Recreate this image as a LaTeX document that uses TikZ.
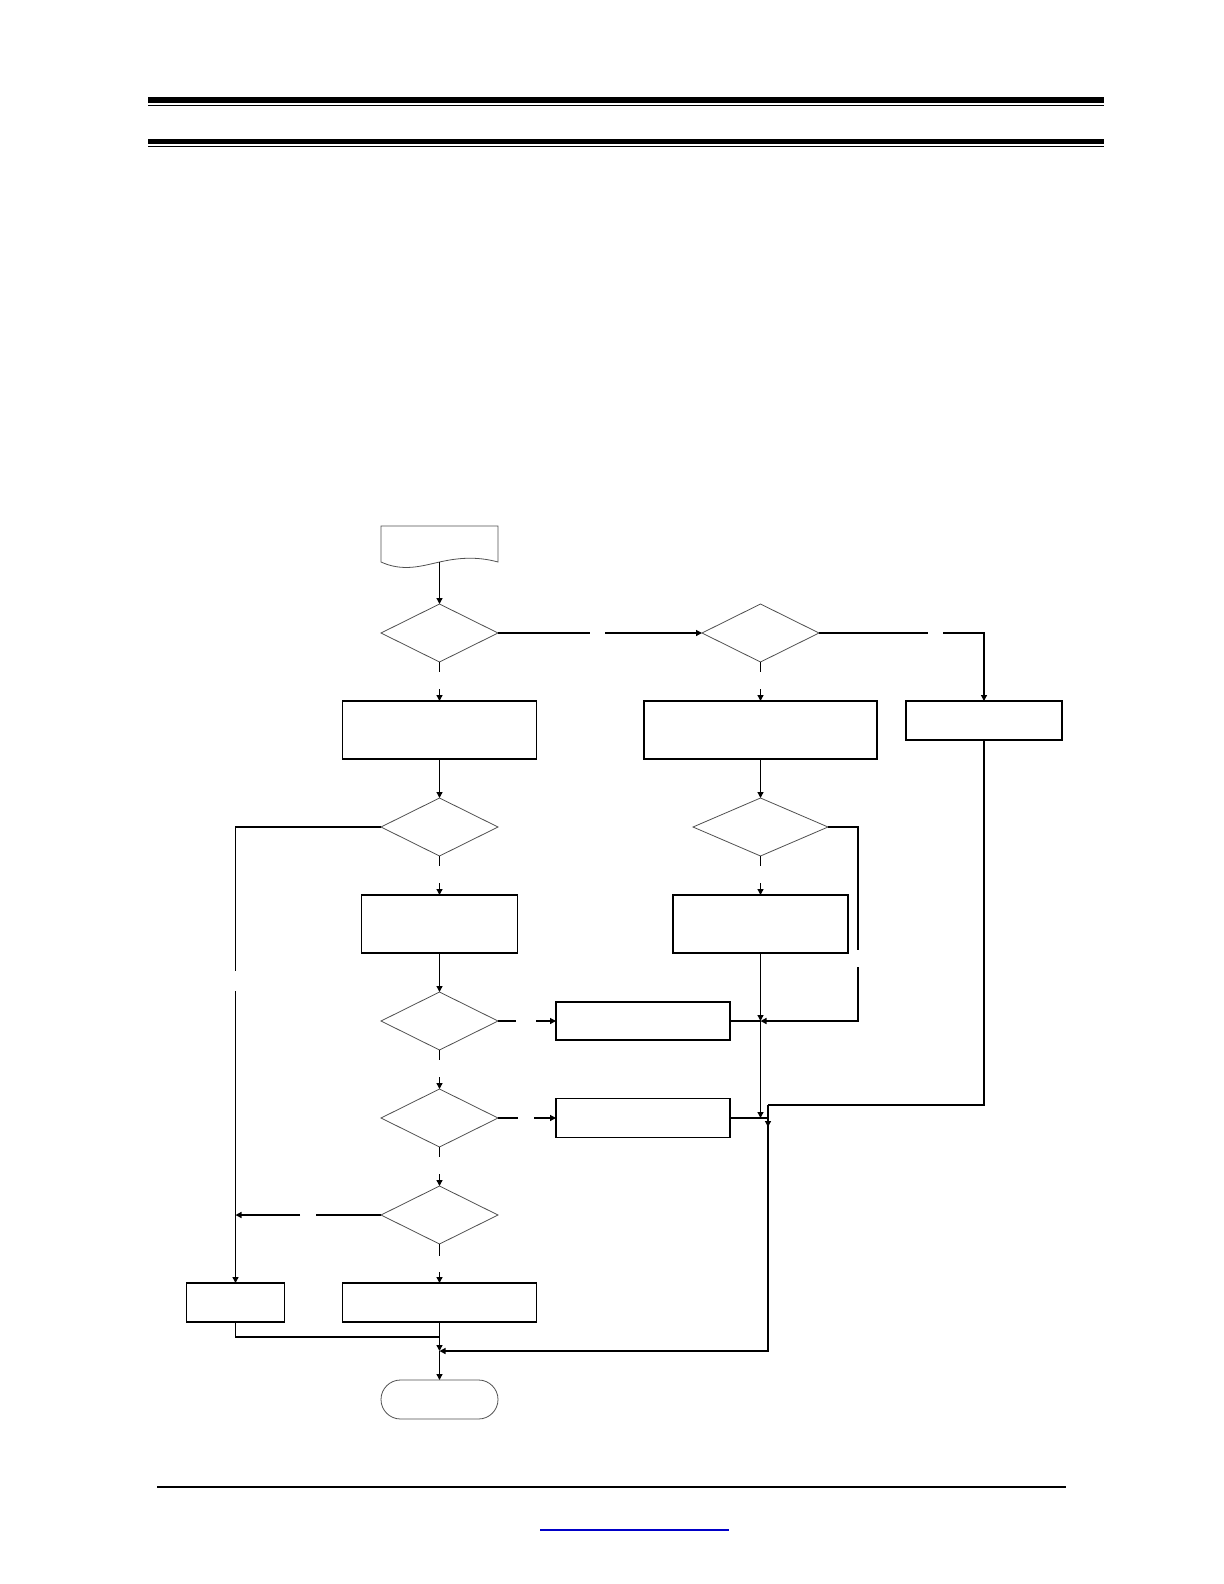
\documentclass[tikz,border=0pt]{standalone}
\usepackage{tikz}
\usetikzlibrary{arrows.meta,positioning,shapes.geometric,shapes.misc,calc}
\usepackage{xcolor}
\definecolor{outlinegray}{RGB}{80,80,80}
\definecolor{linkblue}{RGB}{0,0,200}
\tikzset{
  decision/.style={diamond, draw=outlinegray, line width=0.4pt, inner sep=0pt, outer sep=0pt,
                   minimum width=58.5pt, minimum height=29pt},
  process/.style={rectangle, draw=black, line width=0.65pt, inner sep=0pt, outer sep=0pt,
                  minimum width=97pt, minimum height=29pt},
  processlow/.style={process, minimum height=19.5pt},
  startdoc/.style={rectangle, inner sep=0pt, outer sep=0pt, minimum width=58.5pt, minimum height=18pt},
  docline/.style={draw=outlinegray, line width=0.4pt},
  terminal/.style={rounded rectangle, draw=outlinegray, line width=0.4pt, inner sep=0pt, outer sep=0pt,
                   minimum width=58.5pt, minimum height=19.5pt},
  flow/.style={-{Triangle[length=3pt,width=3pt]}, line width=0.65pt},
  link/.style={line width=0.65pt},
}

\begin{document}
\begin{tikzpicture}[x=0.5pt, y=-0.5pt, node distance=19.5pt]
\useasboundingbox (0,0) rectangle (1224,1584);
% page rules
\fill (148,97) rectangle (1104,102.7);
\draw[line width=0.5pt] (148,105.3) -- (1104,105.3);
\fill (148,138.7) rectangle (1104,143.7);
\draw[line width=0.5pt] (148,146.3) -- (1104,146.3);
\draw[line width=0.65pt] (157,1487) -- (1066,1487);
\draw[linkblue, line width=0.6pt] (540,1530) -- (729,1530);

% Left: main column
\node[startdoc] (start) at (439.5,544) {};
\draw[docline] (start.north west) -- (start.south west)
  .. controls +(22,10) and +(-18,4) .. (start.south)
  .. controls +(18,-4) and +(-22,-6) .. (start.south east) -- (start.north east) -- cycle;
\node[decision, below=21pt of start] (d1) {};
\node[process, below=of d1] (b1) {};
\node[decision, below=of b1] (d3) {};
\node[process, minimum width=78pt, below=of d3] (b4) {};
\node[decision, below=of b4] (d5) {};
\node[decision, below=of d5] (d6) {};
\node[decision, below=of d6] (d7) {};
\node[processlow, below=of d7] (b9) {};
\node[terminal, below=29pt of b9] (stop) {};
\node[processlow, minimum width=49pt, left=29pt of b9] (b8) {};

% Right: second column
\node[decision, right=102pt of d1] (d2) {};
\node[process, minimum width=116.5pt, below=of d2] (b2) {};
\node[processlow, minimum width=78pt] (b3) at (984,720.5) {};
\node[decision, minimum width=67.5pt, below=of b2] (d4) {};
\node[process, minimum width=87.5pt, below=of d4] (b5) {};
\node[processlow, minimum width=87pt, minimum height=19pt, right=29pt of d5] (b6) {};
\node[processlow, minimum width=87pt, right=29pt of d6] (b7) {};

\coordinate (j9) at ($(b9.south)!0.5!(stop.north)$);
\coordinate (ret) at (768,1105);

% connectors
\draw[flow] (start) -- (d1);
\draw[link] (d1.south) -- ++(0,10);
\draw[flow] ([yshift=6pt]b1.north) -- (b1.north);
\draw[link] (d1.east) -- ++(92,0);
\draw[flow] ([xshift=-48.5pt]d2.west) -- (d2.west);
\draw[link] (d2.east) -- ++(109,0);
\draw[flow] ([xshift=62pt]d2.east) -| (b3.north);
\draw[link] (d2.south) -- ++(0,10);
\draw[flow] ([yshift=6pt]b2.north) -- (b2.north);

\draw[flow] (b1) -- (d3);
\draw[link] (d3.west) -- (d3.west -| b8) -- ++(0,144);
\draw[flow] ([yshift=146pt]b8.north) -- (b8.north);
\draw[link] (d3.south) -- ++(0,10);
\draw[flow] ([yshift=6pt]b4.north) -- (b4.north);

\draw[flow] (b2) -- (d4);
\draw[link] (d4.east) -- ++(30,0) coordinate (r4) -- ++(0,123);
\draw[flow] ([yshift=-70pt]r4) -- (r4 |- b6) -- (b5 |- b6);
\draw[link] (d4.south) -- ++(0,10);
\draw[flow] ([yshift=6pt]b5.north) -- (b5.north);
\draw[flow] (b5.south) -- (b5 |- b6);
\draw[flow] (b5 |- b6) -- (b5 |- b7);
\draw[link] (b6.east) -- (b5 |- b6);
\draw[link] (b7.east) -- (b7.east -| ret);

\draw[flow] (b4) -- (d5);
\draw[link] (d5.east) -- ++(18,0);
\draw[flow] ([xshift=-10pt]b6.west) -- (b6.west);
\draw[link] (d5.south) -- ++(0,10);
\draw[flow] ([yshift=6pt]d6.north) -- (d6.north);
\draw[link] (d6.east) -- ++(20,0);
\draw[flow] ([xshift=-11pt]b7.west) -- (b7.west);
\draw[link] (d6.south) -- ++(0,10);
\draw[flow] ([yshift=6pt]d7.north) -- (d7.north);
\draw[link] (d7.west) -- ++(-65,0);
\draw[flow] ([xshift=-40.5pt]d7.west) -- (d7.west -| b8);
\draw[link] (d7.south) -- ++(0,12);
\draw[flow] ([yshift=5.5pt]b9.north) -- (b9.north);

\draw[link] (b3.south) |- (ret);
\draw[flow] (ret) -- ++(0,22);
\draw[flow] (ret) -- (ret |- j9) -- (j9);
\draw[link] (b8.south) |- ([yshift=-7.5pt]b9.south);
\draw[flow] (b9.south) -- (j9);
\draw[flow] (j9) -- (stop.north);
\end{tikzpicture}
\end{document}
